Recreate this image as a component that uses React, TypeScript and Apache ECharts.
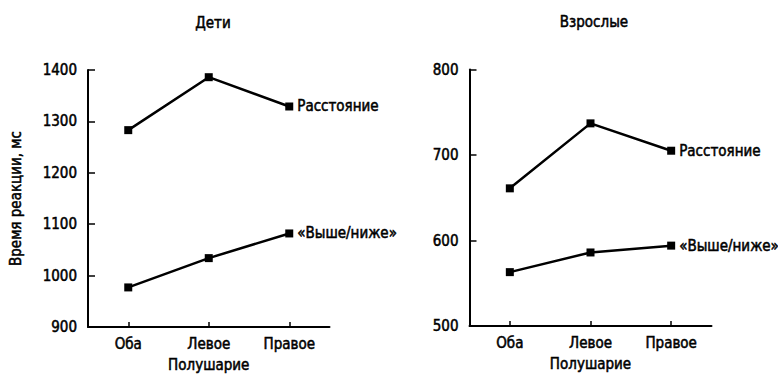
import React, { useEffect, useRef } from "react";
import * as echarts from "echarts";

const categories = ["Оба", "Левое", "Правое"];
const childrenDistance = [1283, 1386, 1329];
const childrenUpDown = [977, 1034, 1082];
const adultsDistance = [661, 737, 705];
const adultsUpDown = [563, 586, 594];
const seriesNames = ["Расстояние", "«Выше/ниже»"];
const panelTitles = ["Дети", "Взрослые"];
const xAxisName = "Полушарие";
const yAxisName = "Время реакции, мс";

const FONT = "'DejaVu Sans Condensed', 'DejaVu Sans', sans-serif";
const TXT = "#000";
const FS = 15;
const STROKE = { textBorderColor: "#000", textBorderWidth: 0.5 };
const TS = { color: TXT, fontSize: FS, fontWeight: "normal", fontFamily: FONT, ...STROKE };

function lineSeries(name: string, values: number[], idx: number) {
  return {
    type: "line",
    name,
    xAxisIndex: idx,
    yAxisIndex: idx,
    symbol: "rect",
    symbolSize: 8,
    lineStyle: { color: "#000", width: 2.5 },
    itemStyle: { color: "#000" },
    label: { show: false },
    data: values.map((v, i) =>
      i === values.length - 1
        ? {
            value: v,
            label: {
              show: true,
              position: "right",
              distance: 4,
              formatter: name,
              ...TS,
            },
          }
        : v
    ),
  };
}

function xAxis(idx: number) {
  return {
    type: "category",
    gridIndex: idx,
    data: categories,
    boundaryGap: true,
    axisLine: { lineStyle: { color: "#000", width: 2 } },
    axisTick: { show: true, inside: true, length: 5, alignWithLabel: true, lineStyle: { color: "#000", width: 1.5 } },
    axisLabel: { ...TS, margin: 9 },
    name: xAxisName,
    nameLocation: "middle",
    nameGap: 30,
    nameTextStyle: { ...TS },
    splitLine: { show: false },
  };
}

function yAxis(idx: number, min: number, max: number, withName: boolean) {
  return {
    type: "value",
    gridIndex: idx,
    min,
    max,
    interval: 100,
    axisLine: { show: true, lineStyle: { color: "#000", width: 2 } },
    axisTick: { show: true, inside: true, length: 7, lineStyle: { color: "#000", width: 1.5 } },
    axisLabel: { ...TS, margin: 11, formatter: (v: number) => String(v) },
    splitLine: { show: false },
    name: withName ? yAxisName : "",
    nameLocation: "middle",
    nameRotate: 90,
    nameGap: 65,
    nameTextStyle: { ...TS },
  };
}

export default function App() {
  const ref = useRef<HTMLDivElement>(null);
  useEffect(() => {
    if (!ref.current) return;
    const chart = echarts.init(ref.current, undefined, { renderer: "svg" });
    chart.setOption({
      animation: false,
      backgroundColor: "#fff",
      title: [
        { text: panelTitles[0], left: 208, top: 10, textAlign: "center", textStyle: { ...TS } },
        { text: panelTitles[1], left: 589, top: 9, textAlign: "center", textStyle: { ...TS } },
      ],
      grid: [
        { left: 88, top: 70, width: 241.5, height: 257, outerBoundsMode: "none", containLabel: false },
        { left: 469.5, top: 69.5, width: 242, height: 256.5, outerBoundsMode: "none", containLabel: false },
      ],
      xAxis: [xAxis(0), xAxis(1)],
      yAxis: [yAxis(0, 900, 1400, true), yAxis(1, 500, 800, false)],
      series: [
        lineSeries(seriesNames[0], childrenDistance, 0),
        lineSeries(seriesNames[1], childrenUpDown, 0),
        lineSeries(seriesNames[0], adultsDistance, 1),
        lineSeries(seriesNames[1], adultsUpDown, 1),
      ],
    });
    return () => chart.dispose();
  }, []);
  return <div ref={ref} style={{ width: 778, height: 376, position: "absolute", left: 0, top: 0 }} />;
}
